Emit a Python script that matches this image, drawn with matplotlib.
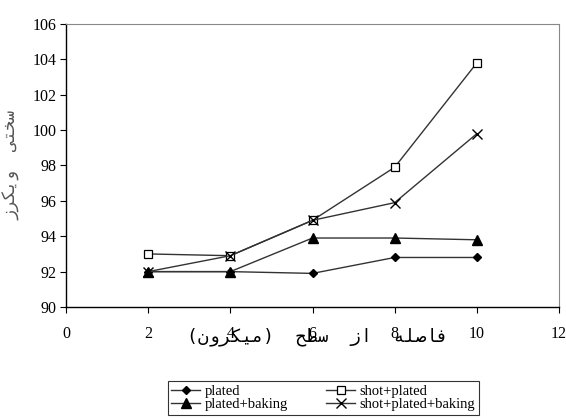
import matplotlib
matplotlib.use("Agg")
import matplotlib.pyplot as plt

# depth from surface (micron)
x = [2, 4, 6, 8, 10]
plated = [92.0, 92.0, 91.9, 92.8, 92.8]
plated_baking = [92.0, 92.0, 93.9, 93.9, 93.8]
shot_plated = [93.0, 92.9, 94.9, 97.9, 103.8]
shot_plated_baking = [92.0, 92.9, 94.9, 95.9, 99.8]

xticks = [0, 2, 4, 6, 8, 10, 12]
yticks = [90, 92, 94, 96, 98, 100, 102, 104, 106]

# Persian labels, pre-shaped (presentation forms) in visual order
XLABEL = "(\ufee5\ufeed\ufeae\ufb91\ufbff\ufee3)  \ufea2\ufec4\ufeb3  \ufeaf\ufe8d  \ufeea\ufee0\ufebb\ufe8e\ufed3"
YLABEL = "\ufeaf\ufeae\ufb91\ufbfe\ufeed  \ufbfd\ufe98\ufea8\ufeb3"

SERIF = "Liberation Serif"
ARAB = ["DejaVu Sans Mono", "DejaVu Sans"]

fig = plt.figure(figsize=(5.66, 4.2), dpi=100)
# axes box: x 66..559 px, y 24..307 px
ax = fig.add_axes([66 / 566, 1 - 307 / 420, 493 / 566, 283 / 420])

lc = "#333333"
ax.plot(x, plated, "-", color=lc, lw=1, marker="D", ms=4.5, mfc="black", mec="black",
        label="plated")
ax.plot(x, plated_baking, "-", color=lc, lw=1, marker="^", ms=6.5, mfc="black", mec="black",
        label="plated+baking")
ax.plot(x, shot_plated, "-", color=lc, lw=1, marker="s", ms=6, mfc="white", mec="black",
        mew=0.9, label="shot+plated")
ax.plot(x, shot_plated_baking, "-", color=lc, lw=1, marker="x", ms=7, mec="black",
        mew=1, label="shot+plated+baking")

ax.set_xlim(0, 12)
ax.set_ylim(90, 106)
ax.set_xticks(xticks)
ax.set_yticks(yticks)
for lab in ax.get_xticklabels() + ax.get_yticklabels():
    lab.set_fontfamily(SERIF)
    lab.set_fontsize(11.5)
ax.tick_params(direction="out", length=4, width=0.8, colors="black")
ax.tick_params(axis="x", pad=10)
ax.tick_params(axis="y", pad=3)

for s in ("top", "right"):
    ax.spines[s].set_color("#888888")
    ax.spines[s].set_linewidth(0.8)
for s in ("left", "bottom"):
    ax.spines[s].set_linewidth(1)

ax.text(0.51, -0.105, XLABEL, transform=ax.transAxes, ha="center", va="center",
        fontsize=13, family=ARAB)
ax.text(-0.11, 0.5, YLABEL, transform=ax.transAxes, ha="center", va="center",
        rotation=90, fontsize=12, color="#555555", family=ARAB)

# legend: two columns, plated / plated+baking on the left
leg = fig.legend(loc="center", bbox_to_anchor=(0.571, 0.052), ncol=2,
                 prop={"family": SERIF, "size": 10.5}, frameon=True, fancybox=False,
                 edgecolor="black", handlelength=2.0, columnspacing=2.6,
                 labelspacing=0.0, borderpad=0.25, handletextpad=0.3,
                 borderaxespad=0.0)
leg.get_frame().set_linewidth(0.8)

fig.savefig("out.png", dpi=100)
